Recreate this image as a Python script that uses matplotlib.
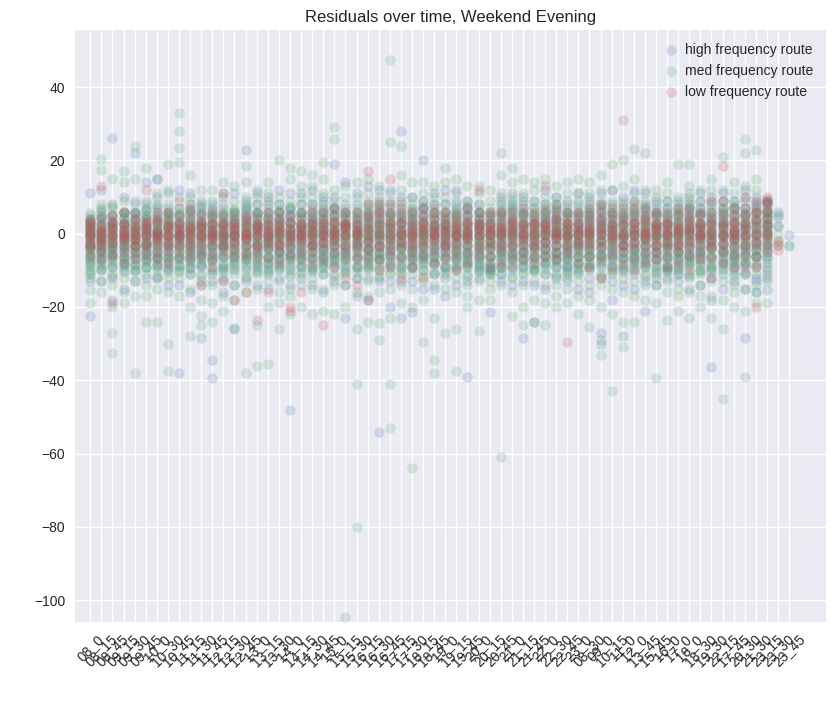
import matplotlib
matplotlib.use("Agg")
import matplotlib.pyplot as plt

plt.style.use("seaborn-v0_8")

times = [
    "08_0", "08_15", "08_45", "09_15", "09_30", "09_45", "10_0", "10_30", "10_45",
    "11_15", "11_30", "11_45", "12_15", "12_30", "12_45", "13_0", "13_15", "13_30",
    "14_0", "14_15", "14_30", "14_45", "15_0", "15_15", "15_30", "16_15", "16_30",
    "16_45", "17_15", "17_30", "18_15", "18_45", "19_0", "19_15", "19_45", "20_0",
    "20_15", "20_45", "21_0", "21_15", "21_45", "22_0", "22_30", "22_45", "23_0",
    "08_30", "09_0", "10_15", "11_0", "12_0", "13_45", "15_45", "16_0", "17_0",
    "18_0", "18_30", "19_30", "22_15", "17_45", "20_30", "21_30", "23_15", "23_30",
    "23_45",
]

high_freq = [
    [-22.6, -11, -8, -6, -4, -3, -1, 0, 1, 2, 3, 4, -13, 11],
    [-13, -10, -7, -5, -4, -2, -1, 0, 1, 3, 5, 7, 12],
    [26, -18, -12, -9, -6, -4, -3, -1, 0, 2, 3, 5, 8],
    [-15, -10, -8, -6, -4, -2, -1, 0, 1, 3, 4, 6, 10],
    [22, -13, -10, -7, -5, -3, -2, 0, 1, 2, 4, 6, 9],
    [-12, -9, -7, -5, -3, -2, 0, 1, 2, 4, 5, 8, 14],
    [15, -12, -9, -7, -5, -3, -1, 0, 1, 3, 5, 7, 10],
    [-14, -10, -8, -6, -4, -2, -1, 0, 2, 3, 5, 7, 11],
    [-38, -14, -10, -7, -5, -3, -1, 0, 1, 3, 5, 7, 12],
    [-16, -11, -8, -6, -4, -2, -1, 1, 2, 4, 6, 8, 11],
    [-28.5, -13, -9, -7, -5, -3, -1, 0, 2, 3, 5, 7, 9],
    [-39.5, -34.5, -13, -10, -7, -5, -3, -1, 0, 1, 3, 5, 8],
    [-16, -12, -9, -6, -4, -2, -1, 0, 2, 3, 5, 7, 10],
    [-25.8, -14, -10, -7, -5, -3, -1, 0, 1, 3, 4, 6, 11],
    [22.7, -13, -10, -7, -5, -3, -1, 0, 2, 3, 5, 7, 9],
    [-14, -10, -8, -5, -3, -2, 0, 1, 2, 4, 6, 8, 11],
    [-15, -11, -8, -6, -4, -2, -1, 1, 2, 4, 6, 8, 10],
    [-13, -10, -7, -5, -3, -1, 0, 1, 3, 4, 6, 8, 12],
    [-48, -14, -10, -7, -5, -3, -1, 0, 1, 3, 5, 7, 11],
    [-12, -9, -7, -5, -3, -2, 0, 1, 2, 4, 6, 8, 11],
    [-14, -10, -7, -5, -3, -1, 0, 1, 3, 4, 6, 8, 12],
    [-16, -11, -8, -6, -4, -2, 0, 1, 2, 4, 6, 8, 10],
    [19, -13, -9, -7, -5, -3, -1, 0, 1, 3, 5, 7, 10],
    [-23, -14, -10, -7, -5, -3, -1, 0, 2, 3, 5, 7, 14],
    [-17, -12, -9, -6, -4, -2, 0, 1, 2, 4, 6, 8, 11],
    [-18, -12, -9, -6, -4, -2, -1, 1, 2, 4, 6, 8, 13],
    [-54, -13, -10, -7, -5, -3, -1, 0, 2, 4, 6, 8, 12],
    [-20, -13, -9, -6, -4, -2, 0, 1, 3, 5, 7, 9, 12],
    [28, -23, -13, -9, -6, -4, -2, 0, 1, 3, 5, 7, 10],
    [-21.5, -13, -9, -7, -5, -3, -1, 0, 2, 3, 5, 7, 10],
    [20, -15, -10, -7, -5, -3, -1, 0, 1, 3, 5, 7, 9],
    [-15, -11, -8, -6, -4, -2, 0, 1, 2, 4, 6, 8, 11],
    [-17, -12, -9, -6, -4, -2, -1, 1, 2, 4, 6, 8, 12],
    [-14, -10, -7, -5, -3, -1, 0, 1, 3, 5, 7, 9, 12],
    [-39, -13, -9, -7, -5, -3, -1, 0, 2, 3, 5, 7, 9],
    [-12, -9, -7, -5, -3, -1, 0, 1, 3, 4, 6, 8, -10],
    [-21.5, -11, -8, -6, -4, -2, 0, 1, 2, 4, 6, -10, -9],
    [-11, -13, -9, -6, -4, -2, 0, 1, 2, 4, 6, 8, 10],
    [-14, -10, -7, -5, -3, -1, 0, 1, 3, 5, 7, 9, 11],
    [-28.5, -13, -9, -7, -5, -3, -1, 0, 2, 4, 6, 8, 10],
    [-24, -14, -10, -7, -5, -3, -1, 0, 2, 3, 5, 7, 9],
    [-15, -11, -8, -6, -4, -2, 0, 1, 3, 4, 6, 8, 12],
    [-12, -9, -7, -5, -3, -1, 0, 1, 3, 4, 6, 8, 10],
    [-13, -10, -7, -5, -3, -1, 0, 1, 3, 5, 7, 9, -9],
    [-15, -11, -8, -6, -4, -2, 0, 1, 2, 4, 6, 8, 11],
    [-16, -12, -9, -6, -4, -2, 0, 1, 3, 4, 6, 8, 10],
    [-27, -30, -12, -9, -6, -4, -2, 0, 2, 4, 6, 8, 11],
    [-18, -13, -9, -7, -5, -3, -1, 1, 2, 4, 6, 8, 12],
    [-28, -14, -10, -7, -5, -3, -1, 0, 2, 4, 6, 8, 10],
    [-15, -11, -8, -6, -4, -2, 0, 1, 3, 5, 7, 9, 12],
    [-21, -13, -9, -7, -5, -3, -1, 0, 2, 4, 6, 8, 11],
    [-14, -10, -7, -5, -3, -1, 0, 1, 3, 5, 7, 9, -12],
    [-12, -9, -7, -5, -3, -1, 0, 2, 3, 5, 7, -10, 9],
    [-13, -10, -7, -5, -3, -1, 0, 1, 3, 5, 7, 9, -11],
    [-15, -11, -8, -6, -4, -2, 0, 1, 2, 4, 6, 8, 10],
    [-14, -10, -7, -5, -3, -1, 0, 2, 3, 5, 7, 9, 11],
    [-36.5, -18, -12, -9, -6, -4, -2, 0, 2, 4, 6, 8, 10],
    [-15, -11, -8, -5, -3, -1, 0, 2, 3, 5, 7, 9, 11],
    [-13, -9, -7, -5, -3, -1, 0, 1, 3, 5, 7, -10, 9],
    [-28.5, -15, -11, -8, -5, -3, -1, 1, 3, 5, 7, 9, 12],
    [-16, -12, -9, -6, -4, -2, 0, 2, 4, 6, 8, 10, -13],
    [-15.5, -10, -8, -6, -4, -2, 0, 2, 4, 6, 8, -12, 1],
    [6, 4.5, 2],
    [-0.5],
]

# extra dense-core readings per time slot (space separated)
high_core = [
    "-7.5 -5.5 -3.5 -2.5 -0.5 0.5 1.5 3.5", "-8.5 -6.5 -4.5 -2.5 -1.5 0.5 2.5 4.5",
    "-7.5 -5.5 -4.5 -2.5 -0.5 1.5 2.5 4.5", "-8.5 -6.5 -4.5 -3.5 -1.5 0.5 2.5 5.5",
    "-8.5 -5.5 -3.5 -1.5 -0.5 1.5 3.5 5.5", "-7.5 -5.5 -3.5 -2.5 -0.5 1.5 3.5 6.5",
    "-8.5 -6.5 -4.5 -2.5 -0.5 0.5 2.5 4.5", "-9.5 -6.5 -4.5 -2.5 -0.5 1.5 3.5 5.5",
    "-8.5 -6.5 -3.5 -1.5 -0.5 1.5 2.5 4.5", "-9.5 -6.5 -4.5 -2.5 -0.5 1.5 3.5 6.5",
    "-8.5 -5.5 -4.5 -1.5 -0.5 1.5 2.5 5.5", "-7.5 -5.5 -3.5 -1.5 0.5 2.5 4.5 6.5",
    "-9.5 -6.5 -3.5 -2.5 -0.5 0.5 2.5 4.5", "-8.5 -6.5 -4.5 -2.5 -0.5 1.5 3.5 5.5",
    "-7.5 -5.5 -3.5 -1.5 0.5 2.5 4.5 6.5", "-8.5 -5.5 -4.5 -1.5 -0.5 1.5 2.5 5.5",
    "-9.5 -6.5 -3.5 -2.5 -0.5 0.5 2.5 4.5", "-8.5 -6.5 -4.5 -2.5 -0.5 1.5 3.5 5.5",
    "-7.5 -5.5 -3.5 -1.5 0.5 2.5 4.5 6.5", "-8.5 -5.5 -4.5 -1.5 -0.5 1.5 2.5 5.5",
    "-9.5 -6.5 -3.5 -2.5 -0.5 0.5 2.5 4.5", "-8.5 -6.5 -4.5 -2.5 -0.5 1.5 3.5 5.5",
    "-7.5 -5.5 -3.5 -1.5 0.5 2.5 4.5 6.5", "-8.5 -5.5 -4.5 -1.5 -0.5 1.5 2.5 5.5",
    "-9.5 -6.5 -3.5 -2.5 -0.5 0.5 2.5 4.5", "-8.5 -6.5 -4.5 -2.5 -0.5 1.5 3.5 5.5",
    "-7.5 -5.5 -3.5 -1.5 0.5 2.5 4.5 6.5", "-8.5 -5.5 -4.5 -1.5 -0.5 1.5 2.5 5.5",
    "-9.5 -6.5 -3.5 -2.5 -0.5 0.5 2.5 4.5", "-8.5 -6.5 -4.5 -2.5 -0.5 1.5 3.5 5.5",
    "-7.5 -5.5 -3.5 -1.5 0.5 2.5 4.5 6.5", "-8.5 -5.5 -4.5 -1.5 -0.5 1.5 2.5 5.5",
    "-9.5 -6.5 -3.5 -2.5 -0.5 0.5 2.5 4.5", "-8.5 -6.5 -4.5 -2.5 -0.5 1.5 3.5 5.5",
    "-7.5 -5.5 -3.5 -1.5 0.5 2.5 4.5 6.5", "-8.5 -5.5 -4.5 -1.5 -0.5 1.5 2.5 5.5",
    "-9.5 -6.5 -3.5 -2.5 -0.5 0.5 2.5 4.5", "-8.5 -6.5 -4.5 -2.5 -0.5 1.5 3.5 5.5",
    "-7.5 -5.5 -3.5 -1.5 0.5 2.5 4.5 6.5", "-8.5 -5.5 -4.5 -1.5 -0.5 1.5 2.5 5.5",
    "-9.5 -6.5 -3.5 -2.5 -0.5 0.5 2.5 4.5", "-8.5 -6.5 -4.5 -2.5 -0.5 1.5 3.5 5.5",
    "-7.5 -5.5 -3.5 -1.5 0.5 2.5 4.5 6.5", "-8.5 -5.5 -4.5 -1.5 -0.5 1.5 2.5 5.5",
    "-9.5 -6.5 -3.5 -2.5 -0.5 0.5 2.5 4.5", "-8.5 -6.5 -4.5 -2.5 -0.5 1.5 3.5 5.5",
    "-7.5 -5.5 -3.5 -1.5 0.5 2.5 4.5 6.5", "-8.5 -5.5 -4.5 -1.5 -0.5 1.5 2.5 5.5",
    "-9.5 -6.5 -3.5 -2.5 -0.5 0.5 2.5 4.5", "-8.5 -6.5 -4.5 -2.5 -0.5 1.5 3.5 5.5",
    "-7.5 -5.5 -3.5 -1.5 0.5 2.5 4.5 6.5", "-8.5 -5.5 -4.5 -1.5 -0.5 1.5 2.5 5.5",
    "-9.5 -6.5 -3.5 -2.5 -0.5 0.5 2.5 4.5", "-8.5 -6.5 -4.5 -2.5 -0.5 1.5 3.5 5.5",
    "-7.5 -5.5 -3.5 -1.5 0.5 2.5 4.5 6.5", "-8.5 -5.5 -4.5 -1.5 -0.5 1.5 2.5 5.5",
    "-9.5 -6.5 -3.5 -2.5 -0.5 0.5 2.5 4.5", "-8.5 -6.5 -4.5 -2.5 -0.5 1.5 3.5 5.5",
    "-7.5 -5.5 -3.5 -1.5 0.5 2.5 4.5 6.5", "-8.5 -5.5 -4.5 -1.5 -0.5 1.5 2.5 5.5",
    "-6.5 -4.5 -2.5 -0.5 1.5 3.5 5.5 7.5", "-4.5 -2.5 0.5 2.5 4.5 6.5 8.5 9.5",
    "", "",
]

med_freq = [
    [-12, -9, -7, -5, -4, -3, -2, -1, 0, 1, 2, 3, 4, 5, -15.5, -19, -10],
    [20.5, 17.5, -16, -13, -10, -8, -6, -4, -3, -2, -1, 0, 1, 2, 4, 6, 8],
    [-32.5, -27, -20, -14, -11, -9, -7, -5, -3, -2, -1, 0, 1, 3, 5, 7, 15],
    [17, 14, -16, -12, -9, -7, -5, -4, -2, -1, 0, 1, 2, 4, 6, 9, -19],
    [24, -38, -17, -13, -10, -8, -6, -4, -3, -1, 0, 1, 2, 4, 6, 8, 15],
    [18, -24, -14, -11, -9, -7, -5, -3, -2, -1, 0, 1, 3, 5, 7, 9, -17],
    [15, -24, -15, -12, -10, -8, -6, -4, -2, -1, 0, 1, 2, 4, 6, 8, 11],
    [19, -37.5, -30, -16, -12, -9, -7, -5, -3, -1, 0, 1, 2, 4, 6, 8, 12],
    [33, 28, 23.5, 19.5, -17, -12, -9, -7, -5, -3, -1, 0, 1, 3, 5, 7, 10],
    [16, -28, -15, -11, -9, -7, -5, -3, -2, 0, 1, 2, 4, 6, 8, 10, -20],
    [-22.5, -18, -14, -11, -8, -6, -4, -3, -1, 0, 1, 2, 4, 6, 8, 12, -25],
    [-24, -19, -14, -11, -9, -7, -5, -3, -1, 0, 1, 2, 3, 5, 7, 9, 12],
    [14, -17, -13, -10, -8, -6, -4, -3, -1, 0, 1, 2, 4, 6, 8, 11, -21],
    [-26, -18, -14, -11, -8, -6, -4, -2, -1, 0, 1, 2, 4, 6, 7, 9, 13],
    [18.5, 14, -38, -16, -12, -9, -7, -5, -3, -1, 0, 1, 2, 4, 6, 8, 10],
    [-36, -25, -15, -11, -9, -7, -5, -3, -2, 0, 1, 2, 4, 6, 8, 10, 12],
    [-35.5, -20, -13, -10, -8, -6, -4, -2, -1, 0, 1, 3, 5, 7, 9, 11, 14],
    [20, -26, -16, -12, -9, -7, -5, -3, -1, 0, 1, 2, 4, 6, 8, 10, -19],
    [18, 15, -22, -15, -11, -9, -6, -4, -2, -1, 0, 1, 3, 5, 7, 9, -17],
    [17, -20, -14, -11, -9, -7, -5, -3, -1, 0, 1, 2, 4, 6, 8, 10, 13],
    [16, -22, -15, -12, -9, -7, -5, -3, -1, 0, 1, 2, 4, 6, 8, 10, 13],
    [19.5, -21, -15, -11, -9, -7, -5, -3, -1, 0, 1, 3, 5, 7, 9, 11, 15],
    [29, 25.8, -22, -14, -11, -8, -6, -4, -2, -1, 0, 1, 3, 5, 7, 9, 12],
    [-104.5, -20, -14, -11, -9, -7, -5, -3, -1, 0, 1, 2, 4, 6, 8, 10, 13],
    [-80, -41, -26, -16, -12, -9, -7, -4, -2, -1, 0, 1, 3, 5, 7, 10, 14],
    [-24, -17, -13, -10, -8, -6, -4, -2, -1, 0, 1, 3, 5, 7, 9, 11, 15],
    [-29, -24.5, -16, -12, -9, -7, -5, -3, -1, 0, 1, 2, 4, 6, 8, 10, 13],
    [47.3, 25, -53, -41, -23, -15, -11, -8, -5, -3, -1, 0, 1, 3, 5, 8, 11],
    [24, -19, -14, -11, -8, -6, -4, -2, -1, 0, 1, 3, 5, 7, 9, 12, 16],
    [-64, -20, -15, -11, -9, -7, -5, -3, -1, 0, 1, 2, 4, 6, 8, 10, 14],
    [-29.5, -18, -13, -10, -8, -6, -4, -2, -1, 0, 1, 3, 5, 7, 9, 11, 14],
    [-38, -34.5, -23, -14, -11, -8, -6, -4, -2, 0, 1, 2, 4, 6, 8, 10, 13],
    [18, -27, -15, -11, -9, -7, -5, -3, -1, 0, 1, 2, 4, 6, 8, 10, 14],
    [-37.5, -26, -16, -12, -9, -7, -5, -3, -1, 0, 1, 2, 4, 6, 8, 11, 15],
    [13, -20, -14, -11, -8, -6, -4, -2, -1, 0, 1, 3, 5, 7, 9, -17, -9],
    [-26.5, -18, -13, -10, -8, -6, -4, -2, -1, 0, 1, 2, 4, 6, 8, 11, 13],
    [12, -18, -13, -10, -8, -6, -4, -2, -1, 0, 1, 3, 5, 7, -15, -11, 9],
    [-61, 22, 16, -14, -11, -9, -7, -5, -3, -1, 0, 1, 3, 5, 7, 9, 11],
    [-22.5, 18, -16, -12, -9, -7, -5, -3, -1, 0, 1, 2, 4, 6, 8, 10, 14],
    [15, -20, -14, -11, -9, -7, -5, -3, -1, 0, 1, 3, 5, 7, 9, 11, -25],
    [-24, -18, -13, -10, -8, -6, -4, -2, -1, 0, 1, 3, 5, 7, 9, 12, 14],
    [-25, -19, -14, -11, -8, -6, -4, -2, -1, 0, 1, 2, 4, 6, 8, 10, 15],
    [13, -20, -14, -11, -9, -7, -5, -3, -1, 0, 1, 2, 4, 6, 8, 10, -17],
    [-19, -15, -11, -9, -7, -5, -3, -1, 0, 1, 2, 4, 6, 8, 11, 14, -12],
    [-17, -13, -10, -8, -6, -4, -2, -1, 0, 1, 3, 5, 7, 9, 11, 15, -22],
    [-25.5, -18, -14, -10, -8, -6, -4, -2, -1, 0, 1, 3, 5, 7, 9, 11, 14],
    [-33, -29, -20, -14, -11, -8, -6, -4, -2, 0, 1, 3, 5, 7, 9, 12, 16],
    [-43, -22, -15, -11, -9, -6, -4, -2, -1, 0, 1, 3, 5, 7, 9, 12, 19],
    [-31, -24, -16, -12, -9, -7, -5, -3, -1, 0, 1, 3, 5, 7, 9, 13, 20],
    [23, -24, -17, -13, -10, -7, -5, -3, -1, 0, 1, 3, 5, 7, 9, 11, 15],
    [22, -18, -14, -11, -8, -6, -4, -2, -1, 0, 1, 3, 5, 7, 9, 12, -9],
    [-39.5, -19, -14, -11, -9, -7, -5, -3, -1, 0, 1, 2, 4, 6, 8, 10, 12],
    [-23.5, -16, -13, -10, -8, -6, -4, -2, -1, 0, 1, 3, 5, 7, 9, 11, 14],
    [19, -21, -15, -11, -9, -7, -5, -3, -1, 0, 1, 2, 4, 6, 8, 10, -17],
    [-23, 19, -16, -12, -9, -7, -5, -3, -1, 0, 1, 3, 5, 7, 9, 11, 13],
    [12, -20, -14, -11, -8, -6, -4, -2, -1, 0, 1, 3, 5, 7, 9, -17, -10],
    [-23, -17, -13, -10, -8, -6, -4, -2, -1, 0, 1, 3, 5, 7, 9, 12, 15],
    [-45, -26, -18, -13, -10, -7, -5, -3, -1, 0, 1, 3, 5, 7, 9, 12, 21],
    [14, -20, -14, -11, -8, -6, -4, -2, -1, 0, 1, 3, 5, 7, 9, 11, -16],
    [25.8, 22, -39, -21, -15, -11, -8, -6, -4, -2, 0, 1, 3, 5, 7, 10, 13],
    [22.7, 15, -19, -14, -11, -8, -6, -4, -2, 0, 1, 3, 5, 7, 9, 12, -16],
    [-19, -13, -9, -7, -5, -3, -1, 0, 1, 3, 5, 7, 9, -11, 4, 6, 2],
    [5, 2, 0, -2, -3],
    [-3.5, -3],
]

med_core = [
    "-10.5 -8.5 -6.5 -4.5 -3.5 -1.5 -0.5 1.5 3.5 5.5", "-9.5 -7.5 -5.5 -4.5 -2.5 -0.5 0.5 2.5 4.5 6.5",
    "-11.5 -8.5 -6.5 -5.5 -3.5 -1.5 0.5 1.5 3.5 7.5", "-10.5 -7.5 -6.5 -3.5 -2.5 -0.5 1.5 2.5 4.5 5.5",
    "-10.5 -8.5 -6.5 -4.5 -3.5 -1.5 -0.5 1.5 3.5 5.5", "-9.5 -7.5 -5.5 -4.5 -2.5 -0.5 0.5 2.5 4.5 6.5",
    "-11.5 -8.5 -6.5 -5.5 -3.5 -1.5 0.5 1.5 3.5 7.5", "-10.5 -7.5 -6.5 -3.5 -2.5 -0.5 1.5 2.5 4.5 5.5",
    "-10.5 -8.5 -6.5 -4.5 -3.5 -1.5 -0.5 1.5 3.5 5.5", "-9.5 -7.5 -5.5 -4.5 -2.5 -0.5 0.5 2.5 4.5 6.5",
    "-11.5 -8.5 -6.5 -5.5 -3.5 -1.5 0.5 1.5 3.5 7.5", "-10.5 -7.5 -6.5 -3.5 -2.5 -0.5 1.5 2.5 4.5 5.5",
    "-10.5 -8.5 -6.5 -4.5 -3.5 -1.5 -0.5 1.5 3.5 5.5", "-9.5 -7.5 -5.5 -4.5 -2.5 -0.5 0.5 2.5 4.5 6.5",
    "-11.5 -8.5 -6.5 -5.5 -3.5 -1.5 0.5 1.5 3.5 7.5", "-10.5 -7.5 -6.5 -3.5 -2.5 -0.5 1.5 2.5 4.5 5.5",
    "-10.5 -8.5 -6.5 -4.5 -3.5 -1.5 -0.5 1.5 3.5 5.5", "-9.5 -7.5 -5.5 -4.5 -2.5 -0.5 0.5 2.5 4.5 6.5",
    "-11.5 -8.5 -6.5 -5.5 -3.5 -1.5 0.5 1.5 3.5 7.5", "-10.5 -7.5 -6.5 -3.5 -2.5 -0.5 1.5 2.5 4.5 5.5",
    "-10.5 -8.5 -6.5 -4.5 -3.5 -1.5 -0.5 1.5 3.5 5.5", "-9.5 -7.5 -5.5 -4.5 -2.5 -0.5 0.5 2.5 4.5 6.5",
    "-11.5 -8.5 -6.5 -5.5 -3.5 -1.5 0.5 1.5 3.5 7.5", "-10.5 -7.5 -6.5 -3.5 -2.5 -0.5 1.5 2.5 4.5 5.5",
    "-10.5 -8.5 -6.5 -4.5 -3.5 -1.5 -0.5 1.5 3.5 5.5", "-9.5 -7.5 -5.5 -4.5 -2.5 -0.5 0.5 2.5 4.5 6.5",
    "-11.5 -8.5 -6.5 -5.5 -3.5 -1.5 0.5 1.5 3.5 7.5", "-10.5 -7.5 -6.5 -3.5 -2.5 -0.5 1.5 2.5 4.5 5.5",
    "-10.5 -8.5 -6.5 -4.5 -3.5 -1.5 -0.5 1.5 3.5 5.5", "-9.5 -7.5 -5.5 -4.5 -2.5 -0.5 0.5 2.5 4.5 6.5",
    "-11.5 -8.5 -6.5 -5.5 -3.5 -1.5 0.5 1.5 3.5 7.5", "-10.5 -7.5 -6.5 -3.5 -2.5 -0.5 1.5 2.5 4.5 5.5",
    "-10.5 -8.5 -6.5 -4.5 -3.5 -1.5 -0.5 1.5 3.5 5.5", "-9.5 -7.5 -5.5 -4.5 -2.5 -0.5 0.5 2.5 4.5 6.5",
    "-11.5 -8.5 -6.5 -5.5 -3.5 -1.5 0.5 1.5 3.5 7.5", "-10.5 -7.5 -6.5 -3.5 -2.5 -0.5 1.5 2.5 4.5 5.5",
    "-10.5 -8.5 -6.5 -4.5 -3.5 -1.5 -0.5 1.5 3.5 5.5", "-9.5 -7.5 -5.5 -4.5 -2.5 -0.5 0.5 2.5 4.5 6.5",
    "-11.5 -8.5 -6.5 -5.5 -3.5 -1.5 0.5 1.5 3.5 7.5", "-10.5 -7.5 -6.5 -3.5 -2.5 -0.5 1.5 2.5 4.5 5.5",
    "-10.5 -8.5 -6.5 -4.5 -3.5 -1.5 -0.5 1.5 3.5 5.5", "-9.5 -7.5 -5.5 -4.5 -2.5 -0.5 0.5 2.5 4.5 6.5",
    "-11.5 -8.5 -6.5 -5.5 -3.5 -1.5 0.5 1.5 3.5 7.5", "-10.5 -7.5 -6.5 -3.5 -2.5 -0.5 1.5 2.5 4.5 5.5",
    "-10.5 -8.5 -6.5 -4.5 -3.5 -1.5 -0.5 1.5 3.5 5.5", "-9.5 -7.5 -5.5 -4.5 -2.5 -0.5 0.5 2.5 4.5 6.5",
    "-11.5 -8.5 -6.5 -5.5 -3.5 -1.5 0.5 1.5 3.5 7.5", "-10.5 -7.5 -6.5 -3.5 -2.5 -0.5 1.5 2.5 4.5 5.5",
    "-10.5 -8.5 -6.5 -4.5 -3.5 -1.5 -0.5 1.5 3.5 5.5", "-9.5 -7.5 -5.5 -4.5 -2.5 -0.5 0.5 2.5 4.5 6.5",
    "-11.5 -8.5 -6.5 -5.5 -3.5 -1.5 0.5 1.5 3.5 7.5", "-10.5 -7.5 -6.5 -3.5 -2.5 -0.5 1.5 2.5 4.5 5.5",
    "-10.5 -8.5 -6.5 -4.5 -3.5 -1.5 -0.5 1.5 3.5 5.5", "-9.5 -7.5 -5.5 -4.5 -2.5 -0.5 0.5 2.5 4.5 6.5",
    "-11.5 -8.5 -6.5 -5.5 -3.5 -1.5 0.5 1.5 3.5 7.5", "-10.5 -7.5 -6.5 -3.5 -2.5 -0.5 1.5 2.5 4.5 5.5",
    "-10.5 -8.5 -6.5 -4.5 -3.5 -1.5 -0.5 1.5 3.5 5.5", "-9.5 -7.5 -5.5 -4.5 -2.5 -0.5 0.5 2.5 4.5 6.5",
    "-11.5 -8.5 -6.5 -5.5 -3.5 -1.5 0.5 1.5 3.5 7.5", "-10.5 -7.5 -6.5 -3.5 -2.5 -0.5 1.5 2.5 4.5 5.5",
    "-8.5 -6.5 -4.5 -2.5 -0.5 1.5 3.5 5.5", "-6.5 -3.5 -1.5 0.5 2.5 4.5 6.5 8.5",
    "", "",
]

low_freq = [
    [-6, -4, -3, -2, -1, 0, 1, 2, 3, 4],
    [13, -7, -5, -3, -2, -1, 0, 1, 2, 4],
    [-19, -6, -4, -2, -1, 0, 1, 2, 3, 5],
    [-8, -5, -3, -2, -1, 0, 1, 2, 3, 6],
    [-7, -5, -3, -2, -1, 0, 1, 2, 4, 5],
    [12, -6, -4, -3, -1, 0, 1, 2, 3, 4],
    [-7, -5, -3, -2, -1, 0, 1, 3, 4, 6],
    [-8, -5, -3, -2, -1, 0, 1, 2, 4, 6],
    [9, -6, -4, -2, -1, 0, 1, 2, 3, 5],
    [-7, -5, -3, -1, 0, 1, 2, 3, 5, 7],
    [-14, -6, -4, -2, -1, 0, 1, 2, 3, 5],
    [-9, -6, -4, -2, -1, 0, 1, 2, 4, 6],
    [11, -13, -5, -3, -1, 0, 1, 2, 3, 5],
    [-18, -6, -4, -2, -1, 0, 1, 2, 3, 5],
    [-16, -6, -4, -2, -1, 0, 1, 2, 4, 5],
    [-23.5, -6, -4, -3, -1, 0, 1, 2, 3, 5],
    [-16, -7, -4, -2, -1, 0, 1, 2, 4, 6],
    [-8, -5, -3, -2, 0, 1, 2, 3, 4, 6],
    [-21, -20, -6, -4, -2, -1, 0, 1, 3, 5],
    [-16, -6, -4, -2, -1, 0, 1, 2, 3, 5],
    [-8, -5, -3, -2, 0, 1, 2, 3, 5, 7],
    [-25, -7, -4, -2, -1, 0, 1, 3, 4, 6],
    [-9, -5, -3, -2, 0, 1, 2, 3, 5, 7],
    [-12, -6, -4, -2, 0, 1, 2, 3, 4, 6],
    [-14, -7, -5, -3, -1, 0, 1, 2, 4, 6],
    [17, -18, -7, -4, -2, 0, 1, 3, 5, 8],
    [-10, -7, -4, -2, 0, 1, 3, 5, 7, 9],
    [15, -9, -6, -3, -1, 0, 2, 4, 6, 8],
    [-12, -7, -4, -2, 0, 1, 3, 4, 6, 8],
    [-9, -6, -4, -2, -1, 0, 1, 3, 4, 6],
    [-12, -6, -4, -2, 0, 1, 2, 3, 5, 7],
    [-8, -5, -3, -1, 0, 1, 2, 4, 5, 7],
    [-7, -5, -3, -2, 0, 1, 2, 3, 5, 6],
    [-10, -6, -4, -2, -1, 0, 1, 2, 4, 5],
    [-8, -5, -3, -1, 0, 1, 2, 3, 5, 7],
    [12, -6, -4, -2, 0, 1, 2, 3, 4, 6],
    [-9, -6, -4, -2, 0, 1, 2, 3, 5, 6],
    [-8, -5, -3, -1, 0, 1, 2, 3, 5, 6],
    [-9, -6, -4, -2, 0, 1, 2, 3, 4, 6],
    [-7, -5, -3, -2, 0, 1, 2, 3, 5, 7],
    [-8, -6, -4, -2, 0, 1, 2, 3, 4, 6],
    [13, -6, -4, -2, 0, 1, 2, 3, 5, 7],
    [-7, -5, -3, -1, 0, 1, 2, 4, 5, 7],
    [-29.5, -6, -4, -2, -1, 0, 1, 3, 4, 6],
    [-8, -5, -3, -2, 0, 1, 2, 3, 5, 6],
    [-9, -6, -3, -1, 0, 1, 2, 4, 5, 7],
    [-12, -7, -4, -2, 0, 1, 2, 4, 6, 8],
    [-10, -6, -4, -2, 0, 1, 2, 4, 5, 7],
    [31, -8, -5, -3, -1, 0, 2, 4, 5, 7],
    [-10, -7, -4, -2, 0, 1, 3, 4, 6, 8],
    [-8, -5, -3, -1, 0, 1, 2, 4, 5, 7],
    [-7, -5, -3, -2, 0, 1, 2, 3, 5, 6],
    [-9, -6, -4, -2, 0, 1, 2, 3, 4, 6],
    [-8, -5, -3, -2, 0, 1, 2, 3, 5, 7],
    [-10, -6, -4, -2, 0, 1, 2, 4, 5, 7],
    [-7, -5, -3, -1, 0, 1, 2, 3, 5, 6],
    [-12, -7, -4, -2, 0, 1, 3, 4, 6, 9],
    [18.5, -8, -5, -3, -1, 0, 2, 4, 6, 9],
    [-9, -6, -4, -2, 0, 1, 2, 3, 5, 7],
    [-9, -6, -3, -1, 0, 2, 4, 5, 7, 10],
    [-20, -9, -6, -3, -1, 0, 2, 4, 6, 9],
    [-5, -3, -1, 0, 2, 4, 6, 8, 10, 9],
    [-3, -4.5, -2],
    [],
]

low_core = [
    "-2.5 -0.5 0.5 2.5", "-3.5 -1.5 0.5 1.5", "-2.5 -0.5 1.5 3.5", "-1.5 -0.5 0.5 2.5",
    "-3.5 -1.5 0.5 2.5", "-2.5 -0.5 1.5 2.5", "-1.5 -0.5 0.5 3.5", "-3.5 -0.5 1.5 2.5",
    "-2.5 -0.5 0.5 2.5", "-3.5 -1.5 0.5 1.5", "-2.5 -0.5 1.5 3.5", "-1.5 -0.5 0.5 2.5",
    "-3.5 -1.5 0.5 2.5", "-2.5 -0.5 1.5 2.5", "-1.5 -0.5 0.5 3.5", "-3.5 -0.5 1.5 2.5",
    "-2.5 -0.5 0.5 2.5", "-3.5 -1.5 0.5 1.5", "-2.5 -0.5 1.5 3.5", "-1.5 -0.5 0.5 2.5",
    "-3.5 -1.5 0.5 2.5", "-2.5 -0.5 1.5 2.5", "-1.5 -0.5 0.5 3.5", "-3.5 -0.5 1.5 2.5",
    "-2.5 -0.5 0.5 2.5", "-4.5 -1.5 1.5 4.5", "-3.5 -0.5 2.5 5.5", "-4.5 -1.5 1.5 3.5",
    "-2.5 -0.5 0.5 2.5", "-3.5 -1.5 0.5 1.5", "-2.5 -0.5 1.5 3.5", "-1.5 -0.5 0.5 2.5",
    "-3.5 -1.5 0.5 2.5", "-2.5 -0.5 1.5 2.5", "-1.5 -0.5 0.5 3.5", "-3.5 -0.5 1.5 2.5",
    "-2.5 -0.5 0.5 2.5", "-3.5 -1.5 0.5 1.5", "-2.5 -0.5 1.5 3.5", "-1.5 -0.5 0.5 2.5",
    "-3.5 -1.5 0.5 2.5", "-2.5 -0.5 1.5 2.5", "-1.5 -0.5 0.5 3.5", "-3.5 -0.5 1.5 2.5",
    "-2.5 -0.5 0.5 2.5", "-3.5 -1.5 0.5 1.5", "-2.5 -0.5 1.5 3.5", "-1.5 -0.5 0.5 2.5",
    "-3.5 -1.5 0.5 2.5", "-2.5 -0.5 1.5 2.5", "-1.5 -0.5 0.5 3.5", "-3.5 -0.5 1.5 2.5",
    "-2.5 -0.5 0.5 2.5", "-3.5 -1.5 0.5 1.5", "-2.5 -0.5 1.5 3.5", "-1.5 -0.5 0.5 2.5",
    "-3.5 -1.5 0.5 2.5", "-2.5 -0.5 1.5 2.5", "-1.5 -0.5 0.5 3.5", "-3.5 -0.5 1.5 2.5",
    "-2.5 0.5 3.5 6.5", "-0.5 2.5 5.5 8.5", "", "",
]

series_names = ["high frequency route", "med frequency route", "low frequency route"]
series_data = [high_freq, med_freq, low_freq]
series_core = [high_core, med_core, low_core]

fig = plt.figure(figsize=(8.36, 7.03), dpi=100)
ax = fig.add_axes([0.0897, 0.115, 0.898, 0.842])

for name, data, core in zip(series_names, series_data, series_core):
    xs, ys = [], []
    for t, vals, extra in zip(times, data, core):
        allv = list(vals) + [float(s) for s in extra.split()]
        xs += [t] * len(allv)
        ys += allv
    ax.scatter(xs, ys, alpha=0.2, label=name)

ax.set_title("Residuals over time, Weekend Evening")
ax.legend(loc="upper right", handlelength=0.8, handletextpad=0.6)
ax.tick_params(axis="x", rotation=45)
ax.set_xlim(-1.38, 66.3)
ax.set_ylim(-106, 55.5)

fig.savefig("out.png", dpi=100)
